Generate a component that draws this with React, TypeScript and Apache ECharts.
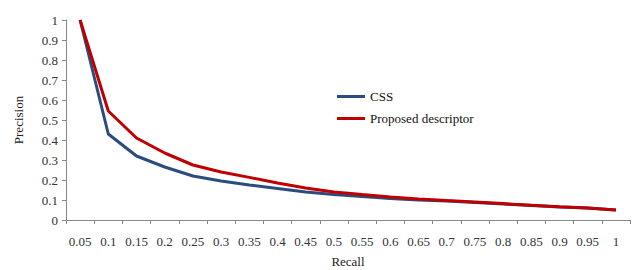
import React, { useEffect, useRef } from "react";
import * as echarts from "echarts";

const recall = ["0.05","0.1","0.15","0.2","0.25","0.3","0.35","0.4","0.45","0.5","0.55","0.6","0.65","0.7","0.75","0.8","0.85","0.9","0.95","1"];
const css = [1.0,0.43,0.32,0.265,0.22,0.195,0.175,0.158,0.14,0.128,0.118,0.108,0.1,0.095,0.088,0.08,0.072,0.065,0.06,0.05];
const proposed = [1.0,0.545,0.41,0.335,0.275,0.24,0.213,0.185,0.16,0.14,0.127,0.115,0.105,0.097,0.09,0.082,0.074,0.066,0.06,0.05];
const yTicks = [0,0.1,0.2,0.3,0.4,0.5,0.6,0.7,0.8,0.9,1];

const font = "'Liberation Serif', 'Times New Roman', serif";

export default function App() {
  const ref = useRef<HTMLDivElement>(null);
  useEffect(() => {
    const chart = echarts.init(ref.current!, null, { renderer: "svg" });
    chart.setOption({
      animation: false,
      textStyle: { fontFamily: font },
      grid: { left: 66, right: 7, top: 20, bottom: 50, containLabel: false, outerBoundsMode: "none" },
      legend: {
        orient: "vertical",
        left: 332,
        top: 85,
        itemWidth: 28,
        itemHeight: 3,
        itemGap: 9,
        icon: "rect",
        textStyle: { fontFamily: font, fontSize: 13, color: "#111" },
        data: ["CSS", "Proposed descriptor"],
      },
      xAxis: {
        type: "category",
        data: recall,
        boundaryGap: true,
        name: "Recall",
        nameLocation: "middle",
        nameGap: 35,
        nameTextStyle: { fontFamily: font, fontSize: 13, color: "#222" },
        axisLine: { lineStyle: { color: "#888" } },
        axisTick: { show: true, length: 4, lineStyle: { color: "#888" } },
        axisLabel: { fontFamily: font, fontSize: 13, color: "#333", margin: 15, interval: 0 },
      },
      yAxis: {
        type: "value",
        min: 0,
        max: 1,
        interval: 0.1,
        name: "Precision",
        nameLocation: "middle",
        nameGap: 41,
        nameTextStyle: { fontFamily: font, fontSize: 13, color: "#222" },
        axisLine: { show: true, lineStyle: { color: "#888" } },
        axisTick: { show: true, length: 4, lineStyle: { color: "#888" } },
        splitLine: { show: false },
        axisLabel: {
          fontFamily: font,
          fontSize: 13,
          color: "#333",
          margin: 8,
          formatter: (v: number) => {
            const t = yTicks.find((x) => Math.abs(x - v) < 1e-6);
            return t === undefined ? "" : String(t);
          },
        },
      },
      series: [
        {
          name: "CSS",
          type: "line",
          data: css,
          symbol: "none",
          lineStyle: { color: "#2B4C7E", width: 3 },
          itemStyle: { color: "#2B4C7E" },
        },
        {
          name: "Proposed descriptor",
          type: "line",
          data: proposed,
          symbol: "none",
          lineStyle: { color: "#C00000", width: 3 },
          itemStyle: { color: "#C00000" },
        },
      ],
    });
    return () => chart.dispose();
  }, []);
  return <div ref={ref} style={{ width: 637, height: 270, position: "absolute", left: 0, top: 0 }} />;
}
